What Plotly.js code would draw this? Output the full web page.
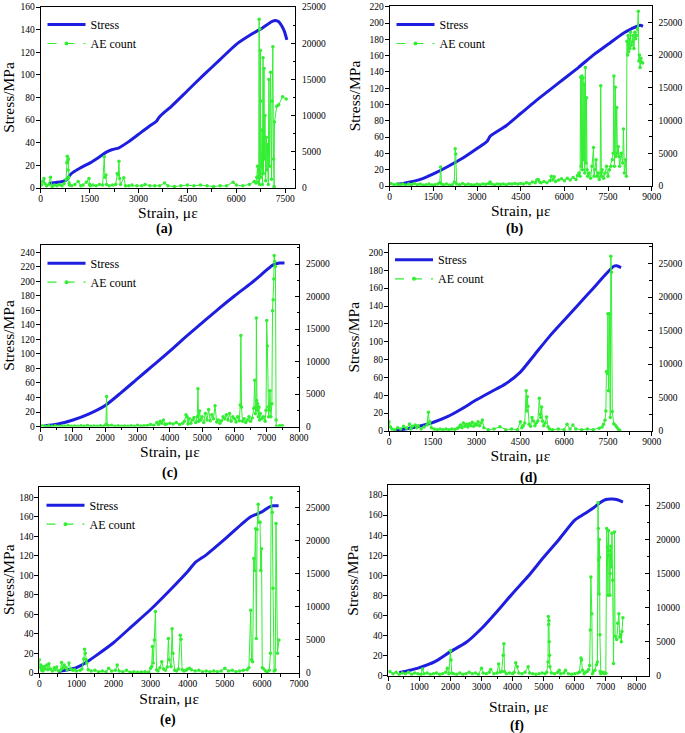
<!DOCTYPE html>
<html>
<head>
<meta charset="utf-8">
<script src="https://cdn.plot.ly/plotly-3.0.1.min.js"></script>
<style>html,body{margin:0;padding:0;background:#fff}#chart{width:685px;height:733px}</style>
</head>
<body>
<div id="chart"></div>
<script>
// ---------------- DATA ----------------
const panelLabels = ['(a)', '(b)', '(c)', '(d)', '(e)', '(f)'];
const seriesNames = ['Stress', 'AE count'];
const xTitle = 'Strain, με';
const yTitle = 'Stress/MPa';

// (a)
const stressA_x = [250, 500, 700, 800, 900, 1000, 1200, 1500, 1800, 2000, 2200, 2400, 2700, 3000, 3300, 3550, 3620, 3700, 4000, 4500, 5000, 5500, 6000, 6500, 6800, 7000, 7100, 7200, 7300, 7400, 7480, 7550];
const stressA_y = [4, 5, 6, 7.5, 11.5, 14, 17.5, 22, 27.5, 31.5, 34, 35.5, 41, 47.5, 54, 59, 62, 64.5, 72, 86, 100, 113.5, 127, 136.5, 141.5, 145.5, 147.2, 148, 147, 143, 138, 131];
const aeA_x = [20, 60, 100, 130, 180, 250, 300, 350, 420, 500,
  580, 650, 720, 780, 800, 815, 830, 840, 850, 860,
  870, 880, 950, 1050, 1150, 1230, 1300, 1400, 1480, 1500,
  1520, 1600, 1700, 1800, 1900, 1950, 1970, 2000, 2020, 2100,
  2200, 2300, 2350, 2380, 2400, 2420, 2450, 2550, 2600, 2700,
  2800, 2950, 3100, 3200, 3350, 3500, 3650, 3800, 3900, 4100,
  4300, 4500, 4700, 4900, 5100, 5300, 5500, 5700, 5900, 6000,
  6200, 6400, 6550, 6600, 6630, 6650, 6670, 6690, 6700, 6710,
  6720, 6730, 6740, 6750, 6760, 6770, 6790, 6800, 6820, 6830,
  6850, 6860, 6880, 6900, 6920, 6940, 6960, 6980, 7000, 7020,
  7050, 7080, 7100, 7120, 7140, 7160, 7170, 7240, 7300, 7420,
  7530];
const aeA_y = [400, 900, 1300, 600, 300, 500, 1500, 200, 400, 300,
  500, 300, 600, 1200, 3500, 4400, 3800, 2500, 4000, 1500,
  700, 400, 300, 500, 900, 300, 400, 800, 1300, 500,
  300, 400, 300, 500, 400, 4300, 1500, 1800, 500, 300,
  400, 500, 2000, 1800, 3700, 1300, 500, 1400, 300, 300,
  400, 300, 300, 500, 300, 300, 300, 700, 300, 200,
  300, 400, 300, 400, 300, 200, 300, 300, 800, 400,
  300, 500, 900, 700, 1500, 3000, 800, 2500, 23300, 500,
  22000, 2000, 19000, 1500, 12000, 3000, 8000, 500, 18000, 2000,
  16500, 4000, 10000, 1000, 7000, 2500, 6000, 500, 15000, 3000,
  16000, 1200, 12000, 19500, 4000, 200, 9100, 11300, 11500, 12600,
  12300];

// (b)
const stressB_x = [250, 500, 1000, 1500, 2000, 2500, 3000, 3350, 3450, 4000, 4500, 5000, 5500, 6000, 6500, 7000, 7500, 8000, 8300, 8600, 8700];
const stressB_y = [2.3, 3.5, 7.5, 15, 24, 34, 46, 55, 61, 74, 89, 104, 118, 132, 146, 161, 174, 187, 193, 197.5, 196];
const aeB_x = [50, 150, 250, 350, 450, 550, 650, 750, 850, 950,
  1050, 1150, 1250, 1350, 1450, 1550, 1650, 1720, 1750, 1780,
  1850, 1950, 2050, 2150, 2220, 2250, 2270, 2300, 2400, 2500,
  2600, 2700, 2800, 2900, 3000, 3100, 3200, 3300, 3400, 3450,
  3500, 3600, 3700, 3800, 3900, 4000, 4100, 4200, 4300, 4400,
  4500, 4600, 4700, 4800, 4900, 5000, 5050, 5100, 5150, 5200,
  5300, 5400, 5500, 5550, 5600, 5650, 5700, 5800, 5900, 6000,
  6100, 6200, 6300, 6400, 6450, 6500, 6540, 6560, 6580, 6600,
  6620, 6640, 6660, 6680, 6700, 6720, 6740, 6760, 6780, 6800,
  6850, 6900, 6950, 7000, 7020, 7050, 7090, 7120, 7150, 7200,
  7230, 7250, 7270, 7300, 7350, 7400, 7450, 7500, 7550, 7600,
  7650, 7680, 7700, 7720, 7750, 7770, 7800, 7820, 7850, 7880,
  7900, 7950, 8000, 8030, 8060, 8100, 8130, 8150, 8170, 8190,
  8210, 8230, 8250, 8270, 8300, 8330, 8360, 8390, 8420, 8450,
  8480, 8510, 8540, 8560, 8580, 8600, 8630, 8660, 8690];
const aeB_y = [400, 200, 300, 200, 300, 150, 300, 200, 400, 200,
  300, 150, 200, 300, 150, 200, 300, 500, 2900, 300,
  200, 300, 150, 200, 600, 5700, 4900, 300, 200, 400,
  200, 300, 200, 150, 300, 200, 300, 250, 400, 600,
  300, 200, 300, 250, 300, 200, 350, 300, 400, 300,
  400, 300, 500, 350, 600, 500, 900, 1000, 600, 500,
  700, 500, 800, 1500, 900, 1400, 700, 900, 1100, 800,
  1200, 900, 1300, 1000, 1600, 2000, 1500, 16600, 3000, 16800,
  2500, 16500, 4000, 15600, 2000, 18100, 3500, 13500, 2500, 1500,
  2000, 1200, 3000, 5900, 1500, 2500, 4000, 1500, 2000, 1000,
  2000, 15300, 1500, 2500, 1200, 2000, 3000, 1500, 2500, 3000,
  4000, 5000, 16800, 3000, 15100, 4500, 12000, 5000, 6000, 4500,
  3000, 5000, 3500, 8700, 2000, 4000, 1500, 22100, 20000, 23000,
  20500, 22500, 21000, 23500, 21500, 22000, 23000, 21000, 23500, 22500,
  23000, 24000, 26700, 19100, 20000, 18100, 19500, 18900, 18800];

// (c)
const stressC_x = [100, 500, 1000, 1500, 2000, 2500, 3000, 3500, 4000, 4500, 5000, 5500, 6000, 6500, 6800, 7000, 7200, 7400, 7550];
const stressC_y = [0.8, 3, 9, 17.5, 29, 47, 66, 85, 104, 124, 143, 162, 180, 197, 208, 216, 223, 225.5, 225.5];
const aeC_x = [50, 150, 250, 350, 450, 550, 650, 750, 850, 950,
  1050, 1150, 1250, 1350, 1450, 1550, 1650, 1750, 1850, 1950,
  2020, 2040, 2060, 2100, 2200, 2300, 2400, 2500, 2600, 2700,
  2800, 2900, 3000, 3100, 3200, 3300, 3400, 3500, 3600, 3650,
  3700, 3750, 3800, 3850, 3900, 4000, 4100, 4200, 4300, 4400,
  4450, 4500, 4530, 4560, 4600, 4650, 4700, 4750, 4800, 4850,
  4870, 4890, 4920, 4950, 5000, 5050, 5100, 5150, 5200, 5250,
  5300, 5350, 5400, 5450, 5500, 5550, 5600, 5650, 5700, 5750,
  5800, 5850, 5900, 5950, 6000, 6050, 6100, 6150, 6180, 6200,
  6220, 6250, 6300, 6350, 6400, 6450, 6500, 6550, 6600, 6630,
  6650, 6670, 6680, 6690, 6700, 6720, 6740, 6760, 6780, 6800,
  6850, 6900, 6950, 6980, 7000, 7020, 7040, 7060, 7080, 7100,
  7130, 7160, 7180, 7200, 7220, 7230, 7250, 7270, 7290, 7300,
  7400, 7480];
const aeC_y = [100, 50, 100, 50, 100, 50, 80, 50, 150, 50,
  80, 50, 100, 50, 150, 50, 80, 50, 100, 50,
  300, 4600, 200, 100, 200, 50, 100, 50, 80, 50,
  100, 50, 200, 80, 100, 150, 300, 200, 600, 300,
  800, 500, 1000, 300, 400, 500, 400, 600, 300, 500,
  800, 1800, 1500, 400, 1200, 500, 1000, 1400, 600, 1500,
  5800, 800, 2400, 1000, 1500, 600, 2000, 1000, 2600, 900,
  1800, 1200, 3200, 700, 1000, 500, 900, 1500, 1200, 1800,
  1000, 2000, 800, 1500, 1200, 700, 1500, 900, 3300, 14000,
  3000, 800, 1200, 600, 1000, 1500, 800, 1300, 2800, 7100,
  2000, 3000, 16700, 4000, 2500, 3500, 1500, 3000, 1000, 2000,
  1200, 1500, 800, 2500, 16300, 12400, 3000, 1500, 2500, 5500,
  1500, 3500, 17800, 19500, 22700, 26300, 25400, 24600, 1000, 50,
  100, 150];

// (d)
const stressD_x = [150, 500, 1000, 1500, 2000, 2500, 3000, 3500, 4000, 4500, 5000, 5500, 6000, 6500, 7000, 7300, 7500, 7700, 7800, 7950];
const stressD_y = [0.4, 2, 5, 9.5, 16, 25, 35, 44, 53, 66, 86, 106, 124, 142, 160, 171, 178, 184.5, 185, 183];
const aeD_x = [0, 50, 100, 200, 300, 400, 500, 600, 700, 750,
  800, 900, 950, 1000, 1100, 1200, 1300, 1350, 1380, 1400,
  1450, 1550, 1650, 1750, 1850, 1950, 2050, 2150, 2250, 2350,
  2400, 2450, 2500, 2550, 2600, 2650, 2700, 2750, 2800, 2850,
  2900, 2950, 3000, 3050, 3100, 3150, 3200, 3250, 3400, 3600,
  3800, 4000, 4200, 4400, 4500, 4550, 4600, 4650, 4700, 4720,
  4740, 4760, 4800, 4850, 4900, 4950, 5000, 5050, 5100, 5150,
  5180, 5200, 5230, 5260, 5300, 5350, 5400, 5450, 5500, 5600,
  5800, 6000, 6100, 6200, 6300, 6400, 6600, 6800, 7000, 7200,
  7300, 7350, 7400, 7430, 7450, 7480, 7500, 7520, 7550, 7580,
  7600, 7620, 7650, 7700, 7750, 7800, 7850, 7900];
const aeD_y = [1400, 600, 300, 200, 500, 300, 700, 400, 1050, 300,
  700, 900, 500, 800, 300, 600, 900, 2800, 1200, 1400,
  500, 300, 200, 300, 200, 300, 200, 300, 250, 400,
  600, 900, 500, 1200, 700, 1000, 600, 1100, 800, 1300,
  700, 1100, 900, 1400, 800, 1200, 1650, 500, 200, 300,
  650, 200, 300, 200, 1400, 500, 800, 1200, 6000, 3000,
  5100, 3700, 1000, 700, 2000, 1500, 800, 1200, 1500, 4900,
  2500, 2000, 3600, 1500, 800, 1200, 2100, 600, 300, 200,
  300, 200, 1000, 300, 900, 300, 200, 300, 200, 400,
  600, 1000, 1600, 3000, 8900, 8600, 17500, 6000, 17500, 2000,
  26100, 23700, 2900, 1100, 900, 600, 300, 100];

// (e)
const stressE_x = [500, 800, 1000, 1250, 1500, 2000, 2500, 3000, 3500, 4000, 4200, 4500, 5000, 5500, 5700, 6000, 6200, 6300, 6450];
const stressE_y = [1.5, 3.5, 5.5, 10.5, 17, 31, 48, 65, 84, 104, 113, 121, 137, 154, 160, 165, 170, 171.3, 171.3];
const aeE_x = [0, 20, 40, 60, 80, 100, 130, 160, 200, 230,
  260, 300, 350, 400, 430, 470, 520, 570, 600, 630,
  670, 700, 750, 800, 850, 900, 950, 1000, 1100, 1150,
  1200, 1220, 1240, 1260, 1280, 1320, 1400, 1500, 1600, 1700,
  1800, 1870, 1950, 2050, 2100, 2150, 2250, 2350, 2450, 2550,
  2650, 2750, 2850, 2950, 3000, 3030, 3050, 3070, 3100, 3130,
  3160, 3200, 3250, 3300, 3350, 3400, 3450, 3480, 3500, 3550,
  3580, 3600, 3650, 3700, 3750, 3800, 3820, 3850, 3900, 3950,
  4000, 4050, 4100, 4200, 4300, 4400, 4500, 4600, 4700, 4800,
  4900, 5000, 5100, 5200, 5300, 5400, 5500, 5600, 5650, 5700,
  5720, 5750, 5780, 5800, 5830, 5850, 5870, 5900, 5920, 5950,
  5970, 5990, 6010, 6050, 6100, 6150, 6200, 6230, 6250, 6280,
  6300, 6330, 6360, 6380, 6420, 6460];
const aeE_y = [2000, 800, 1200, 400, 900, 300, 1000, 600, 1200, 500,
  1400, 600, 300, 800, 500, 900, 300, 400, 1600, 700,
  1200, 900, 500, 1500, 600, 400, 500, 300, 400, 600,
  2100, 3600, 3000, 2000, 1500, 500, 300, 400, 200, 300,
  200, 700, 300, 400, 1200, 300, 200, 400, 100, 200,
  100, 150, 200, 100, 700, 1000, 4000, 1500, 5000, 9300,
  500, 300, 800, 1700, 600, 400, 900, 5200, 2000, 1000,
  6700, 3000, 400, 300, 600, 5700, 5100, 500, 300, 400,
  600, 700, 500, 300, 400, 200, 300, 200, 300, 200,
  300, 700, 300, 400, 200, 300, 400, 500, 800, 9500,
  2000, 1700, 17300, 15500, 21800, 5200, 21700, 25500, 22800, 22800,
  15500, 18800, 800, 600, 300, 200, 400, 3000, 26500, 24300,
  12800, 300, 450, 22600, 3000, 5000];

// (f)
const stressF_x = [350, 700, 1000, 1500, 2000, 2500, 3000, 3500, 4000, 4500, 5000, 5500, 6000, 6300, 6600, 6800, 7000, 7200, 7400, 7550];
const stressF_y = [3, 5.5, 8, 14, 24, 33, 47, 64, 82, 99, 118, 136, 155, 161, 167, 172, 175.5, 176, 175, 173];
const aeF_x = [50, 150, 250, 350, 450, 550, 650, 750, 850, 950,
  1050, 1100, 1150, 1250, 1350, 1450, 1550, 1650, 1750, 1850,
  1900, 1950, 2000, 2020, 2040, 2100, 2200, 2300, 2400, 2500,
  2600, 2700, 2800, 2900, 3000, 3050, 3150, 3250, 3300, 3400,
  3500, 3550, 3600, 3650, 3700, 3720, 3740, 3800, 3900, 4000,
  4050, 4100, 4150, 4200, 4300, 4400, 4500, 4550, 4650, 4750,
  4850, 4950, 5050, 5100, 5140, 5150, 5160, 5170, 5180, 5190,
  5200, 5250, 5350, 5450, 5500, 5550, 5650, 5700, 5800, 5900,
  6000, 6100, 6150, 6200, 6220, 6250, 6300, 6350, 6400, 6450,
  6480, 6500, 6520, 6550, 6570, 6600, 6650, 6700, 6730, 6750,
  6760, 6770, 6780, 6790, 6800, 6810, 6820, 6840, 6880, 6920,
  6960, 7000, 7030, 7050, 7070, 7090, 7100, 7120, 7130, 7140,
  7160, 7180, 7200, 7220, 7250, 7280, 7300, 7350, 7380, 7420,
  7450, 7480, 7500, 7520, 7550];
const aeF_y = [600, 300, 500, 200, 400, 300, 500, 200, 400, 300,
  200, 1000, 300, 400, 200, 300, 400, 200, 300, 500,
  1100, 300, 3700, 2300, 400, 300, 200, 400, 200, 300,
  500, 300, 400, 200, 1100, 400, 300, 500, 900, 300,
  400, 1700, 500, 600, 3000, 4700, 600, 300, 400, 300,
  500, 1900, 1300, 400, 300, 500, 1300, 400, 300, 200,
  300, 400, 300, 500, 2000, 8700, 7500, 8100, 5000, 3000,
  1300, 400, 300, 500, 800, 300, 400, 800, 300, 200,
  300, 400, 500, 2600, 2300, 800, 300, 500, 600, 900,
  1500, 6700, 14500, 9100, 300, 600, 800, 1600, 2000, 25400,
  21600, 17000, 12000, 20000, 17400, 6000, 600, 300, 400, 500,
  300, 350, 21600, 18900, 11800, 21300, 18400, 17700, 11800, 15000,
  19000, 16000, 20900, 14000, 1800, 21100, 5800, 5300, 7700, 9100,
  5700, 6000, 5000, 6500, 8500];

// ---------------- STYLE / LAYOUT ----------------
const W = 685, H = 733;
const FONT = '"Liberation Serif", "Times New Roman", Times, serif';
const BLUE = '#1e1ee0';
const GREEN = '#33ee33';

// box = [left, top, right, bottom] in px
const panels = [
  {sx: stressA_x, sy: stressA_y, ex: aeA_x, ey: aeA_y, box: [40.7, 7, 295, 188], xr: [0, 7800], xd: 1500, yr: [0, 160], y2r: [0, 25000], leg: [48.5, 24], xStand: 0, labelPos: [164, 229.5]},
  {sx: stressB_x, sy: stressB_y, ex: aeB_x, ey: aeB_y, box: [389.7, 6, 651.7, 186], xr: [0, 9000], xd: 1500, yr: [0, 221], y2r: [0, 27500], leg: [397.5, 24], xStand: 0, labelPos: [514, 229]},
  {sx: stressC_x, sy: stressC_y, ex: aeC_x, ey: aeC_y, box: [40.7, 244.5, 299, 426.5], xr: [0, 8000], xd: 1000, yr: [0, 251], y2r: [0, 28000], leg: [48.5, 262.7], xStand: 2, labelPos: [170, 473]},
  {sx: stressD_x, sy: stressD_y, ex: aeD_x, ey: aeD_y, box: [389, 243.5, 651.7, 431], xr: [0, 9000], xd: 1500, yr: [0, 210], y2r: [0, 28000], leg: [396, 259.3], xStand: 3, labelPos: [528, 478]},
  {sx: stressE_x, sy: stressE_y, ex: aeE_x, ey: aeE_y, box: [39.3, 486.5, 299, 673], xr: [0, 7000], xd: 1000, yr: [0, 191], y2r: [0, 28200], leg: [47.5, 504.7], xStand: 4, labelPos: [168, 720]},
  {sx: stressF_x, sy: stressF_y, ex: aeF_x, ey: aeF_y, box: [388.3, 485, 649.3, 675.7], xr: [0, 8400], xd: 1000, yr: [0, 190], y2r: [0, 28000], leg: null, xStand: 10, labelPos: [517, 726]}
];

const traces = [];
const layout = {
  width: W, height: H,
  margin: {l: 0, r: 0, t: 0, b: 0},
  paper_bgcolor: '#ffffff', plot_bgcolor: 'rgba(0,0,0,0)',
  font: {family: FONT, color: '#000'},
  showlegend: true,
  annotations: []
};

const tickFont = {family: FONT, size: 9.5, color: '#000'};
const titleFont = {family: FONT, size: 15.5, color: '#000'};

panels.forEach((p, i) => {
  const k = i + 1;
  const sfx = k === 1 ? '' : String(k);
  const xName = 'xaxis' + sfx, xId = 'x' + sfx;
  const yl = 2 * k - 1, yr = 2 * k;
  const ylName = 'yaxis' + (yl === 1 ? '' : yl), ylId = 'y' + (yl === 1 ? '' : yl);
  const yrName = 'yaxis' + yr, yrId = 'y' + yr;
  const legName = 'legend' + sfx;
  const [L, T, R, B] = p.box;

  layout[xName] = {
    domain: [L / W, R / W], anchor: ylId, range: p.xr, tick0: 0, dtick: p.xd,
    ticks: 'outside', ticklen: 4, tickwidth: 1, tickcolor: '#000', ticklabelstandoff: -2,
    showline: true, linecolor: '#000', linewidth: 1, mirror: true,
    showgrid: false, zeroline: false, tickfont: tickFont, tickformat: 'd',
    minor: {dtick: p.xd / 2, ticks: 'outside', ticklen: 2.5, tickcolor: '#000', showgrid: false},
    title: {text: xTitle, font: titleFont, standoff: p.xStand}
  };
  layout[ylName] = {
    domain: [1 - B / H, 1 - T / H], anchor: xId, range: p.yr, tick0: 0, dtick: 20,
    ticks: 'outside', ticklen: 4, tickwidth: 1, tickcolor: '#000', ticklabelstandoff: -1,
    showline: true, linecolor: '#000', linewidth: 1, mirror: false,
    showgrid: false, zeroline: false, tickfont: tickFont, tickformat: 'd',
    title: {text: yTitle, font: titleFont, standoff: 5}
  };
  layout[yrName] = {
    overlaying: ylId, side: 'right', anchor: xId, range: p.y2r, tick0: 0, dtick: 5000,
    ticks: 'inside', ticklen: 4, tickwidth: 1, tickcolor: '#000', ticklabelstandoff: 4,
    showline: true, linecolor: '#000', linewidth: 1,
    showgrid: false, zeroline: false, tickfont: tickFont, tickformat: 'd',
    minor: {dtick: 2500, ticks: 'inside', ticklen: 2.5, tickcolor: '#000', showgrid: false}
  };

  traces.push({
    type: 'scatter', mode: 'lines', x: p.sx, y: p.sy, name: seriesNames[0],
    xaxis: xId, yaxis: ylId, line: {color: BLUE, width: 3, shape: 'spline', smoothing: 0.6},
    showlegend: false, hoverinfo: 'skip'
  });
  traces.push({
    type: 'scatter', mode: 'lines+markers', x: p.ex, y: p.ey, name: seriesNames[1],
    xaxis: xId, yaxis: yrId, line: {color: GREEN, width: 1},
    marker: {color: GREEN, size: 3.5, symbol: 'circle'},
    showlegend: false, hoverinfo: 'skip'
  });

  if (p.leg) {
    layout[legName] = {
      x: (p.leg[0] - 6) / W, y: 1 - (p.leg[1] - 14) / H, xanchor: 'left', yanchor: 'top',
      bgcolor: 'rgba(0,0,0,0)', borderwidth: 0, itemwidth: 38,
      font: {family: FONT, size: 12, color: '#000'}, tracegroupgap: 0
    };
    // legend-only entries (no data drawn)
    traces.push({
      type: 'scatter', mode: 'lines', x: [null], y: [null], name: seriesNames[0],
      xaxis: xId, yaxis: ylId, legend: legName, line: {color: BLUE, width: 3}
    });
    traces.push({
      type: 'scatter', mode: 'lines+markers', x: [null], y: [null], name: seriesNames[1],
      xaxis: xId, yaxis: yrId, legend: legName, line: {color: GREEN, width: 1.2, dash: 'dash'},
      marker: {color: GREEN, size: 4}
    });
  }

  layout.annotations.push({
    text: panelLabels[i], xref: 'paper', yref: 'paper',
    x: p.labelPos[0] / W, y: 1 - p.labelPos[1] / H, xanchor: 'center', yanchor: 'middle',
    showarrow: false, font: {family: FONT, size: 14, color: '#000', weight: 'bold'}
  });
});

Plotly.newPlot('chart', traces, layout, {staticPlot: true, displayModeBar: false});
</script>
</body>
</html>
